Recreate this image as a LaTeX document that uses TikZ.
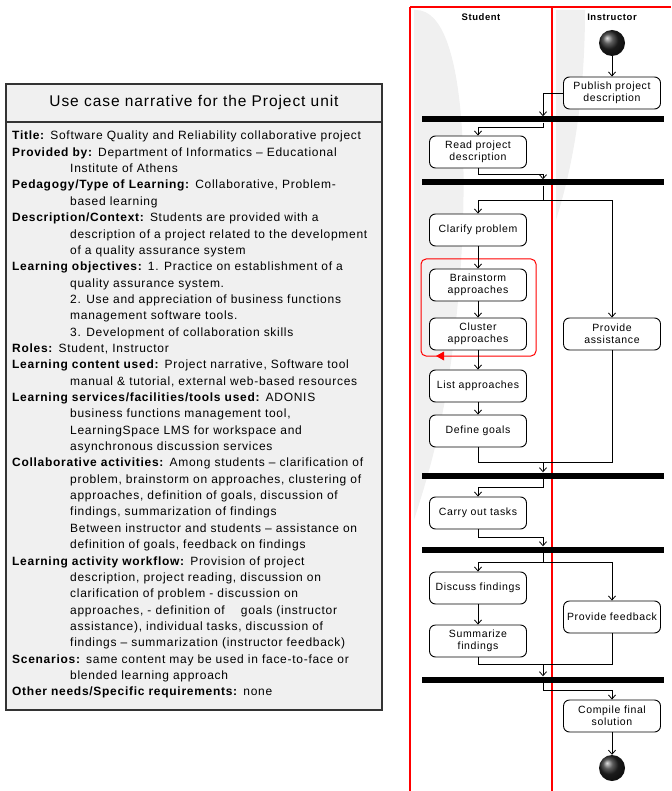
\documentclass[tikz,border=0pt]{standalone}
\usepackage{fontspec}
\setmainfont{Liberation Sans}
\newfontfamily\spaced[LetterSpace=6]{Liberation Sans}
\usetikzlibrary{arrows.meta,shadings,calc}
\newcommand{\ind}{\hspace*{58pt}}
\newcommand{\dash}{\textendash}
\begin{document}
\begin{tikzpicture}[x=1pt,y=-1pt,
  act/.style={draw=black, line width=0.9pt, rounded corners=6pt, fill=white,
    minimum width=97pt, minimum height=32pt, align=center,
    font=\spaced\fontsize{10.5}{12}\selectfont, inner sep=1pt},
  syncbar/.style={fill=black, draw=none, minimum width=242pt, minimum height=6pt, inner sep=0pt},
  flow/.style={line width=0.8pt, -{Straight Barb[length=4pt,width=7pt]}},
  plain/.style={line width=0.8pt},
  lane/.style={draw=red, line width=2.2pt},
  dot/.style={circle, minimum size=26pt, inner sep=0pt, shading=ball, ball color=black!85}
]
\useasboundingbox (0,0) rectangle (671,791);

% ---- narrative table ----
\draw[draw=black!80, line width=1.2pt, fill=black!6] (6,84) rectangle (382,710);
\draw[draw=black!80, line width=1.2pt] (6,122) -- (382,122);
\node[font=\spaced\fontsize{15.5}{17}\selectfont] (head) at (194,102) {Use case narrative for the Project unit};
\node[anchor=north west, align=left, inner sep=0pt,
      font=\spaced\fontsize{12}{16.35}\selectfont] (body) at (12,131) {%
\textbf{Title:} Software Quality and Reliability collaborative project\\
\textbf{Provided by:} Department of Informatics \dash{} Educational\\
\ind Institute of Athens\\
\textbf{Pedagogy/Type of Learning:} Collaborative, Problem-\\
\ind based learning\\
\textbf{Description/Context:} Students are provided with a\\
\ind description of a project related to the development\\
\ind of a quality assurance system\\
\textbf{Learning objectives:} 1. Practice on establishment of a\\
\ind quality assurance system.\\
\ind 2. Use and appreciation of business functions\\
\ind management software tools.\\
\ind 3. Development of collaboration skills\\
\textbf{Roles:} Student, Instructor\\
\textbf{Learning content used:} Project narrative, Software tool\\
\ind manual \& tutorial, external web-based resources\\
\textbf{Learning services/facilities/tools used:} ADONIS\\
\ind business functions management tool,\\
\ind LearningSpace LMS for workspace and\\
\ind asynchronous discussion services\\
\textbf{Collaborative activities:} Among students \dash{} clarification of\\
\ind problem, brainstorm on approaches, clustering of\\
\ind approaches, definition of goals, discussion of\\
\ind findings, summarization of findings\\
\ind Between instructor and students \dash{} assistance on\\
\ind definition of goals, feedback on findings\\
\textbf{Learning activity workflow:} Provision of project\\
\ind description, project reading, discussion on\\
\ind clarification of problem - discussion on\\
\ind approaches, - definition of \quad goals (instructor\\
\ind assistance), individual tasks, discussion of\\
\ind findings \dash{} summarization (instructor feedback)\\
\textbf{Scenarios:} same content may be used in face-to-face or\\
\ind blended learning approach\\
\textbf{Other needs/Specific requirements:} none};

% ---- swimlanes ----
\fill[black!6] (416,10) .. controls (470,10) and (470,200) .. (455,330)
   .. controls (445,420) and (430,470) .. (414,520) -- (414,10) -- cycle;
\fill[black!6] (556,10) -- (585,10) .. controls (585,90) and (575,160) .. (556,220) -- cycle;
\draw[lane] (410,7) -- (671,7);
\draw[lane] (410,7) -- (410,791);
\draw[lane] (552,7) -- (552,791);
\node[font=\spaced\fontsize{9.5}{10}\selectfont\bfseries] (hs) at (481,17) {Student};
\node[font=\spaced\fontsize{9.5}{10}\selectfont\bfseries] (hi) at (612,17) {Instructor};

% ---- activities ----
\node[dot] (start) at (612,43) {};
\node[act] (pub) at (612,93) {Publish project\\description};
\node[syncbar] (b1) at (543,119.5) {};
\node[act] (read) at (478,152) {Read project\\description};
\node[syncbar] (b2) at (543,182.5) {};
\node[act] (clar) at (478,230) {Clarify problem};
\draw[red, line width=1pt, rounded corners=5pt] (421,259) rectangle (536,356);
\fill[red] (436,356) -- (444,351.5) -- (444,360.5) -- cycle;
\node[act] (brain) at (478,285) {Brainstorm\\approaches};
\node[act] (clus) at (478,334) {Cluster\\approaches};
\node[act] (assist) at (612,334) {Provide\\assistance};
\node[act] (list) at (478,386) {List approaches};
\node[act] (goals) at (478,431) {Define goals};
\node[syncbar] (b3) at (543,475.5) {};
\node[act] (carry) at (478,513) {Carry out tasks};
\node[syncbar] (b4) at (543,549.5) {};
\node[act] (disc) at (478,588) {Discuss findings};
\node[act] (summ) at (478,641) {Summarize\\findings};
\node[act] (fb) at (612,617) {Provide feedback};
\node[syncbar] (b5) at (543,679.5) {};
\node[act] (comp) at (612,716) {Compile final\\solution};
\node[dot] (stop) at (612,768) {};

% ---- control flow ----
\draw[flow] (start) -- (pub);
\draw[flow] (pub.west) -| (b1.north);
\draw[flow] (b1.south) -- ++(0,5) -| (read.north);
\draw[flow] (read.south) -- ++(0,6) -| (b2.north);
\coordinate (j2) at ($(b2.south)+(0,15)$);
\draw[plain] (b2.south) -- (j2);
\draw[flow] (j2) -| (clar.north);
\draw[flow] (j2) -| (assist.north);
\draw[flow] (clar) -- (brain);
\draw[flow] (brain) -- (clus);
\draw[flow] (clus) -- (list);
\draw[flow] (list) -- (goals);
\coordinate (j3) at ($(b3.north)+(0,-10)$);
\draw[plain] (goals.south) |- (j3);
\draw[plain] (assist.south) |- (j3);
\draw[flow] (j3) -- (b3.north);
\draw[flow] (b3.south) -- ++(0,9) -| (carry.north);
\draw[flow] (carry.south) -- ++(0,8) -| (b4.north);
\coordinate (j4) at ($(b4.south)+(0,10)$);
\draw[plain] (b4.south) -- (j4);
\draw[flow] (j4) -| (disc.north);
\draw[flow] (j4) -| (fb.north);
\draw[flow] (disc) -- (summ);
\coordinate (j5) at ($(b5.north)+(0,-12)$);
\draw[plain] (summ.south) |- (j5);
\draw[plain] (fb.south) |- (j5);
\draw[flow] (j5) -- (b5.north);
\draw[flow] (b5.south) -- ++(0,8) -| (comp.north);
\draw[flow] (comp) -- (stop);
\end{tikzpicture}
\end{document}
